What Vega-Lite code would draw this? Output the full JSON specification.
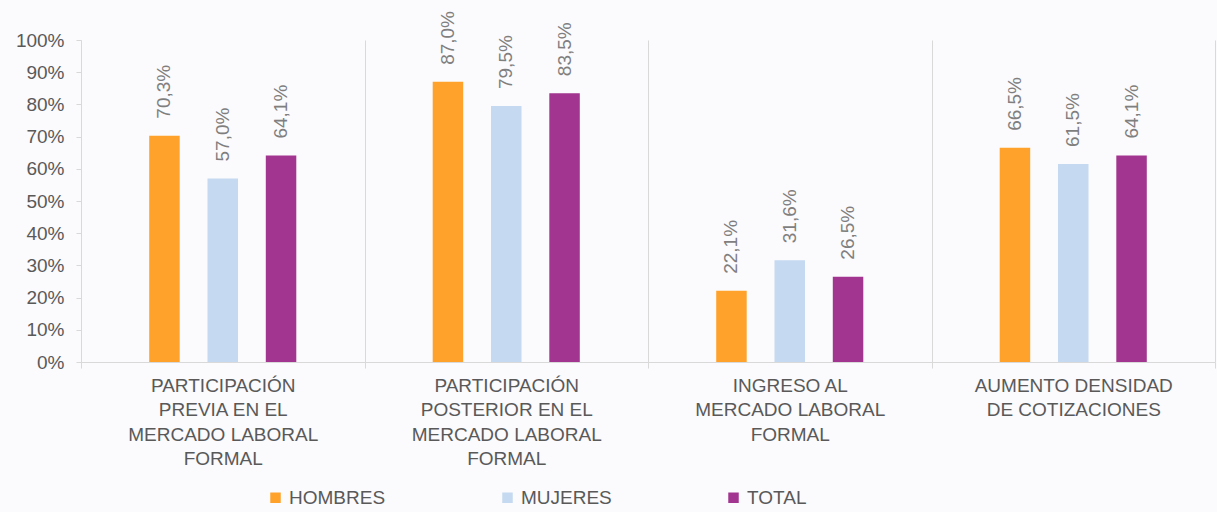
{
  "$schema": "https://vega.github.io/schema/vega-lite/v6.json",
  "autosize": "none",
  "width": 1134,
  "height": 322,
  "padding": {"left": 81, "top": 40, "right": 2, "bottom": 150},
  "background": "#fbfafc",
  "config": {
    "locale": {"number": {"decimal": ",", "thousands": ".", "grouping": [3], "currency": ["", " €"]}},
    "view": {"stroke": null},
    "font": "Liberation Sans"
  },
  "data": {
    "values": [
      {"categoria": "PARTICIPACIÓN PREVIA EN EL MERCADO LABORAL FORMAL", "grupo": "HOMBRES", "valor": 0.703},
      {"categoria": "PARTICIPACIÓN PREVIA EN EL MERCADO LABORAL FORMAL", "grupo": "MUJERES", "valor": 0.570},
      {"categoria": "PARTICIPACIÓN PREVIA EN EL MERCADO LABORAL FORMAL", "grupo": "TOTAL", "valor": 0.641},
      {"categoria": "PARTICIPACIÓN POSTERIOR EN EL MERCADO LABORAL FORMAL", "grupo": "HOMBRES", "valor": 0.870},
      {"categoria": "PARTICIPACIÓN POSTERIOR EN EL MERCADO LABORAL FORMAL", "grupo": "MUJERES", "valor": 0.795},
      {"categoria": "PARTICIPACIÓN POSTERIOR EN EL MERCADO LABORAL FORMAL", "grupo": "TOTAL", "valor": 0.835},
      {"categoria": "INGRESO AL MERCADO LABORAL FORMAL", "grupo": "HOMBRES", "valor": 0.221},
      {"categoria": "INGRESO AL MERCADO LABORAL FORMAL", "grupo": "MUJERES", "valor": 0.316},
      {"categoria": "INGRESO AL MERCADO LABORAL FORMAL", "grupo": "TOTAL", "valor": 0.265},
      {"categoria": "AUMENTO DENSIDAD DE COTIZACIONES", "grupo": "HOMBRES", "valor": 0.665},
      {"categoria": "AUMENTO DENSIDAD DE COTIZACIONES", "grupo": "MUJERES", "valor": 0.615},
      {"categoria": "AUMENTO DENSIDAD DE COTIZACIONES", "grupo": "TOTAL", "valor": 0.641}
    ]
  },
  "encoding": {
    "x": {
      "field": "categoria",
      "type": "nominal",
      "sort": null,
      "scale": {"paddingInner": 0, "paddingOuter": 0},
      "axis": {
        "title": null,
        "labelAngle": 0,
        "labelBaseline": "top",
        "labelAlign": "center",
        "labelFontSize": 19,
        "labelColor": "#595959",
        "labelLineHeight": 24.5,
        "labelPadding": 8,
        "labelLimit": 400,
        "tickBand": "extent",
        "tickSize": 6,
        "tickColor": "#d9d9d9",
        "domainColor": "#d9d9d9",
        "grid": true,
        "gridColor": "#d9d9d9",
        "labelExpr": "datum.value == 'PARTICIPACIÓN PREVIA EN EL MERCADO LABORAL FORMAL' ? ['PARTICIPACIÓN', 'PREVIA EN EL', 'MERCADO LABORAL', 'FORMAL'] : datum.value == 'PARTICIPACIÓN POSTERIOR EN EL MERCADO LABORAL FORMAL' ? ['PARTICIPACIÓN', 'POSTERIOR EN EL', 'MERCADO LABORAL', 'FORMAL'] : datum.value == 'INGRESO AL MERCADO LABORAL FORMAL' ? ['INGRESO AL', 'MERCADO LABORAL', 'FORMAL'] : datum.value == 'AUMENTO DENSIDAD DE COTIZACIONES' ? ['AUMENTO DENSIDAD', 'DE COTIZACIONES'] : ''"
      }
    },
    "xOffset": {
      "field": "grupo",
      "type": "nominal",
      "scale": {"domain": ["_a", "HOMBRES", "MUJERES", "TOTAL", "_b"], "paddingInner": 0.477, "paddingOuter": 0.17}
    },
    "y": {
      "field": "valor",
      "type": "quantitative",
      "scale": {"domain": [0, 1], "nice": false},
      "axis": {
        "title": null,
        "values": [0, 0.1, 0.2, 0.3, 0.4, 0.5, 0.6, 0.7, 0.8, 0.9, 1],
        "format": ".0%",
        "labelFontSize": 19,
        "labelColor": "#595959",
        "labelPadding": 12,
        "tickSize": 5,
        "tickColor": "#d9d9d9",
        "domainColor": "#d9d9d9",
        "grid": false
      }
    }
  },
  "layer": [
    {
      "mark": {"type": "bar"},
      "encoding": {
        "color": {
          "field": "grupo",
          "type": "nominal",
          "scale": {"domain": ["HOMBRES", "MUJERES", "TOTAL"], "range": ["#ffa22b", "#c5d9f1", "#a2358f"]},
          "legend": {
            "title": null,
            "orient": "none",
            "direction": "horizontal",
            "legendX": 185,
            "legendY": 448,
            "symbolType": "square",
            "symbolSize": 110,
            "symbolStrokeWidth": 0,
            "labelFontSize": 19,
            "labelColor": "#595959",
            "labelOffset": 4,
            "columnPadding": 112
          }
        }
      }
    },
    {
      "mark": {"type": "text", "angle": 270, "align": "left", "baseline": "middle", "dx": 17, "fontSize": 19, "color": "#7f7f7f"},
      "encoding": {
        "text": {"field": "valor", "type": "quantitative", "format": ".1%"}
      }
    }
  ]
}
